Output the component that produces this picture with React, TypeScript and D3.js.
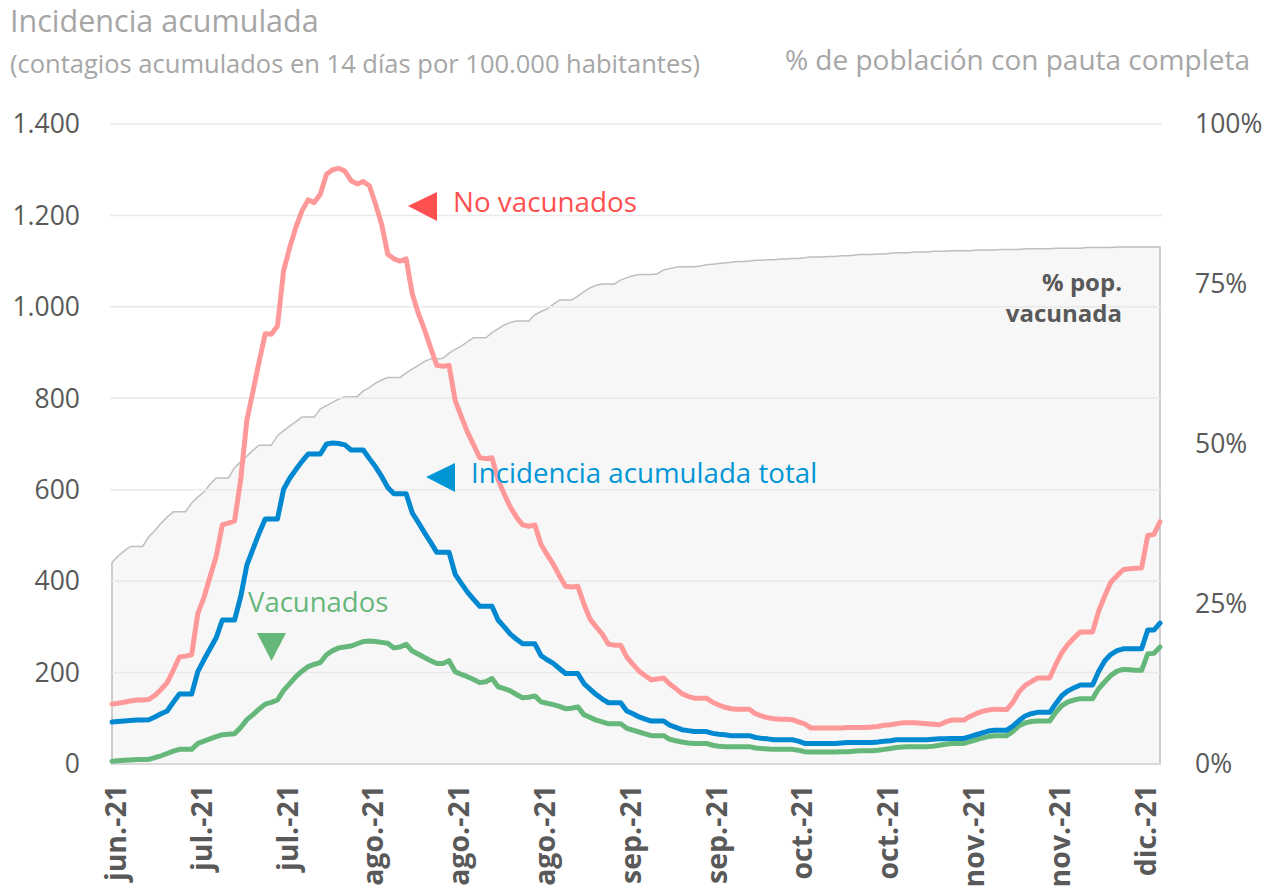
import * as d3 from "d3";

// daily series, 21 jun 2021 .. 9 dic 2021 (one row per week, Mon..Sun)
const START = new Date(2021, 5, 21);
const END = new Date(2021, 11, 9);
const days = d3.timeDay.range(START, d3.timeDay.offset(END, 1));

const noVacunados = [
  131, 133, 135, 138, 140, 140, 141,
  150, 163, 178, 205, 234, 236, 239,
  329, 364, 410, 454, 523, 527, 532,
  622, 752, 815, 880, 941, 940, 958,
  1079, 1130, 1174, 1210, 1234, 1228, 1247,
  1290, 1300, 1303, 1297, 1276, 1269, 1274,
  1265, 1225, 1180, 1115, 1105, 1100, 1105,
  1028, 985, 950, 910, 872, 870, 872,
  795, 760, 726, 698, 670, 668, 670,
  622, 590, 562, 540, 523, 520, 523,
  480, 458, 437, 412, 389, 387, 389,
  350, 317, 300, 284, 262, 260, 260,
  234, 218, 203, 193, 184, 186, 188,
  175, 165, 154, 148, 144, 144, 144,
  135, 129, 124, 121, 120, 120, 120,
  110, 105, 101, 99, 98, 98, 97,
  92, 88, 79, 79, 79, 79, 79,
  79, 80, 80, 80, 80, 81, 82,
  85, 86, 88, 90, 90, 90, 89,
  88, 87, 86, 92, 96, 96, 96,
  104, 110, 115, 118, 120, 119, 119,
  135, 158, 172, 180, 188, 188, 188,
  218, 244, 262, 276, 289, 289, 289,
  335, 368, 398, 412, 425, 427, 428,
  429, 500, 502, 530,
];

const total = [
  92, 93, 94, 95, 96, 96, 97,
  103, 110, 116, 135, 153, 153, 153,
  202, 228, 252, 276, 315, 315, 315,
  366, 435, 470, 505, 536, 536, 536,
  601, 625, 644, 662, 678, 678, 678,
  700, 702, 701, 698, 687, 687, 687,
  668, 650, 629, 605, 591, 591, 591,
  549, 528, 506, 485, 463, 463, 463,
  415, 395, 376, 360, 345, 345, 345,
  315, 300, 284, 273, 263, 263, 263,
  237, 228, 220, 209, 198, 198, 198,
  176, 164, 152, 142, 134, 134, 134,
  116, 110, 103, 98, 94, 94, 94,
  85, 80, 75, 73, 71, 71, 71,
  67, 65, 64, 62, 62, 62, 62,
  58, 56, 55, 53, 53, 53, 53,
  50, 45, 45, 45, 45, 45, 45,
  46, 47, 47, 47, 47, 47, 48,
  50, 51, 53, 53, 53, 53, 53,
  53, 54, 55, 55, 56, 56, 56,
  60, 64, 68, 72, 74, 74, 74,
  83, 95, 105, 110, 113, 113, 113,
  132, 150, 160, 167, 173, 173, 173,
  203, 226, 240, 248, 252, 252, 252,
  252, 293, 293, 308,
];

const vacunados = [
  6, 7, 8, 9, 10, 10, 10,
  14, 18, 23, 28, 32, 32, 32,
  45, 50, 55, 60, 64, 65, 66,
  80, 97, 108, 120, 131, 135, 140,
  161, 176, 191, 203, 213, 218, 222,
  239, 248, 254, 256, 258, 263, 268,
  269, 268, 266, 264, 254, 256, 262,
  247, 240, 233, 226, 220, 220, 226,
  202, 196, 191, 185, 178, 180, 187,
  169, 165, 160, 152, 145, 146, 149,
  136, 133, 130, 126, 121, 122, 125,
  108, 102, 96, 92, 88, 88, 88,
  78, 74, 70, 66, 62, 62, 62,
  54, 51, 48, 46, 45, 45, 45,
  41, 39, 38, 38, 38, 38, 38,
  35, 34, 33, 32, 32, 32, 32,
  30, 27, 26, 26, 26, 26, 26,
  27, 27, 28, 29, 29, 29, 30,
  32, 34, 36, 37, 38, 38, 38,
  38, 39, 41, 43, 45, 45, 45,
  49, 53, 57, 60, 62, 62, 62,
  71, 84, 90, 93, 94, 94, 94,
  113, 128, 136, 140, 143, 143, 143,
  165, 180, 194, 203, 207, 206, 205,
  205, 241, 242, 256,
];

// % de población con pauta completa
const pctVacunada = [
  31.5, 32.5, 33.3, 34.0, 34.0, 34.0, 35.5,
  36.5, 37.6, 38.6, 39.4, 39.4, 39.4, 40.8,
  41.7, 42.5, 43.7, 44.7, 44.7, 44.7, 46.3,
  47.2, 48.1, 49.0, 49.8, 49.8, 49.8, 51.3,
  52.1, 52.8, 53.5, 54.2, 54.2, 54.2, 55.5,
  56.0, 56.5, 57.0, 57.4, 57.4, 57.4, 58.3,
  58.8, 59.5, 60.0, 60.4, 60.4, 60.4, 61.1,
  61.7, 62.3, 62.9, 63.3, 63.3, 63.4, 64.2,
  64.8, 65.3, 66.0, 66.6, 66.6, 66.6, 67.4,
  68.0, 68.6, 69.0, 69.2, 69.2, 69.2, 70.2,
  70.7, 71.1, 71.8, 72.5, 72.5, 72.5, 73.1,
  73.8, 74.4, 74.8, 75.0, 75.0, 75.0, 75.6,
  76.0, 76.3, 76.5, 76.5, 76.5, 76.6, 77.2,
  77.4, 77.6, 77.7, 77.7, 77.7, 77.8, 78.0,
  78.1, 78.2, 78.3, 78.4, 78.5, 78.5, 78.6,
  78.7, 78.7, 78.8, 78.8, 78.9, 78.9, 79.0,
  79.0, 79.1, 79.2, 79.2, 79.2, 79.3, 79.3,
  79.4, 79.4, 79.5, 79.6, 79.6, 79.6, 79.7,
  79.7, 79.8, 79.9, 79.9, 79.9, 80.0, 80.0,
  80.0, 80.1, 80.1, 80.1, 80.2, 80.2, 80.2,
  80.2, 80.3, 80.3, 80.3, 80.3, 80.4, 80.4,
  80.4, 80.4, 80.5, 80.5, 80.5, 80.5, 80.5,
  80.6, 80.6, 80.6, 80.6, 80.6, 80.7, 80.7,
  80.7, 80.7, 80.7, 80.8, 80.8, 80.8, 80.8,
  80.8, 80.8, 80.8, 80.8,
];

const tickDates = [
  "2021-06-21", "2021-07-05", "2021-07-19", "2021-08-02", "2021-08-16",
  "2021-08-30", "2021-09-13", "2021-09-27", "2021-10-11", "2021-10-25",
  "2021-11-08", "2021-11-22", "2021-12-06",
];
const tickLabels = [
  "jun.-21", "jul.-21", "jul.-21", "ago.-21", "ago.-21", "ago.-21", "sep.-21",
  "sep.-21", "oct.-21", "oct.-21", "nov.-21", "nov.-21", "dic.-21",
];
const leftTicks = [0, 200, 400, 600, 800, 1000, 1200, 1400];
const rightTicks = [0, 25, 50, 75, 100];

const FONT = "'Open Sans', 'Noto Sans', sans-serif";
const es = d3.formatLocale({ decimal: ",", thousands: ".", grouping: [3], currency: ["", " €"] });
const fmt = es.format(",");

export default function App() {
  const width = 1269;
  const height = 890;
  const left = 112, right = 1160, top = 124, bottom = 764;

  const x = d3.scaleTime().domain([START, END]).range([left, right]);
  const y = d3.scaleLinear().domain([0, 1400]).range([bottom, top]);
  const y2 = d3.scaleLinear().domain([0, 100]).range([bottom, top]);

  const line = d3
    .line<number>()
    .x((_, i) => x(days[i]))
    .y((v) => y(v));
  const area = d3
    .area<number>()
    .x((_, i) => x(days[i]))
    .y0(y2(0))
    .y1((v) => y2(v));
  const parse = d3.timeParse("%Y-%m-%d");

  return (
    <svg
      width={width}
      height={height}
      style={{ position: "absolute", left: 0, top: 0, background: "#fff" }}
      fontFamily={FONT}
    >
      {/* titles */}
      <text x={10} y={32} fontSize={30.5} fill="#a6a6a6">
        Incidencia acumulada
      </text>
      <text x={10} y={73} fontSize={25.5} fill="#a6a6a6">
        (contagios acumulados en 14 días por 100.000 habitantes)
      </text>
      <text x={1250} y={70} fontSize={28} fill="#a6a6a6" textAnchor="end">
        % de población con pauta completa
      </text>

      {/* vaccinated area */}
      <path d={area(pctVacunada) || ""} fill="#f7f7f7" stroke="#bfbfbf" strokeWidth={1.5} />

      {/* gridlines */}
      {leftTicks.slice(1).map((t) => (
        <line key={t} x1={left - 2} x2={right + 2} y1={y(t)} y2={y(t)} stroke="#e9e9e9" strokeWidth={1.5} />
      ))}
      <line x1={left} x2={right} y1={bottom} y2={bottom} stroke="#d9d9d9" strokeWidth={2} />

      {/* left axis */}
      {leftTicks.map((t) => (
        <text key={t} x={80} y={y(t)} dy="0.35em" textAnchor="end" fontSize={26.5} fill="#595959">
          {fmt(t)}
        </text>
      ))}
      {/* right axis */}
      {rightTicks.map((t) => (
        <text key={t} x={1195} y={y2(t)} dy="0.35em" fontSize={26.5} fill="#595959">
          {t}%
        </text>
      ))}
      {/* x axis */}
      {tickDates.map((d, i) => {
        const px = x(parse(d)!) + 4;
        return (
          <text
            key={d}
            transform={`translate(${px},785) rotate(-90)`}
            dy="0.35em"
            textAnchor="end"
            fontSize={28.5}
            fontWeight="bold"
            fill="#595959"
          >
            {tickLabels[i]}
          </text>
        );
      })}

      {/* series */}
      <path d={line(vacunados) || ""} fill="none" stroke="#66b77a" strokeWidth={5} strokeLinejoin="round" strokeLinecap="round" />
      <path d={line(total) || ""} fill="none" stroke="#0088d1" strokeWidth={5} strokeLinejoin="round" strokeLinecap="round" />
      <path d={line(noVacunados) || ""} fill="none" stroke="#ff9999" strokeWidth={5} strokeLinejoin="round" strokeLinecap="round" />

      {/* annotations */}
      <path d="M408,206L437,192L437,221Z" fill="#ff5050" />
      <text x={453} y={212} fontSize={27.8} fill="#ff5050">No vacunados</text>
      <path d="M426,477L455,463L455,492Z" fill="#0096d6" />
      <text x={471} y={483} fontSize={27.7} fill="#0096d6">Incidencia acumulada total</text>
      <text x={248} y={612} fontSize={27.5} fill="#66b77a">Vacunados</text>
      <path d="M257,633L286,633L271.5,661Z" fill="#66b77a" />
      <text x={1122} y={291} fontSize={24} fontWeight="bold" fill="#595959" textAnchor="end">% pop.</text>
      <text x={1122} y={322} fontSize={24} fontWeight="bold" fill="#595959" textAnchor="end">vacunada</text>
    </svg>
  );
}
